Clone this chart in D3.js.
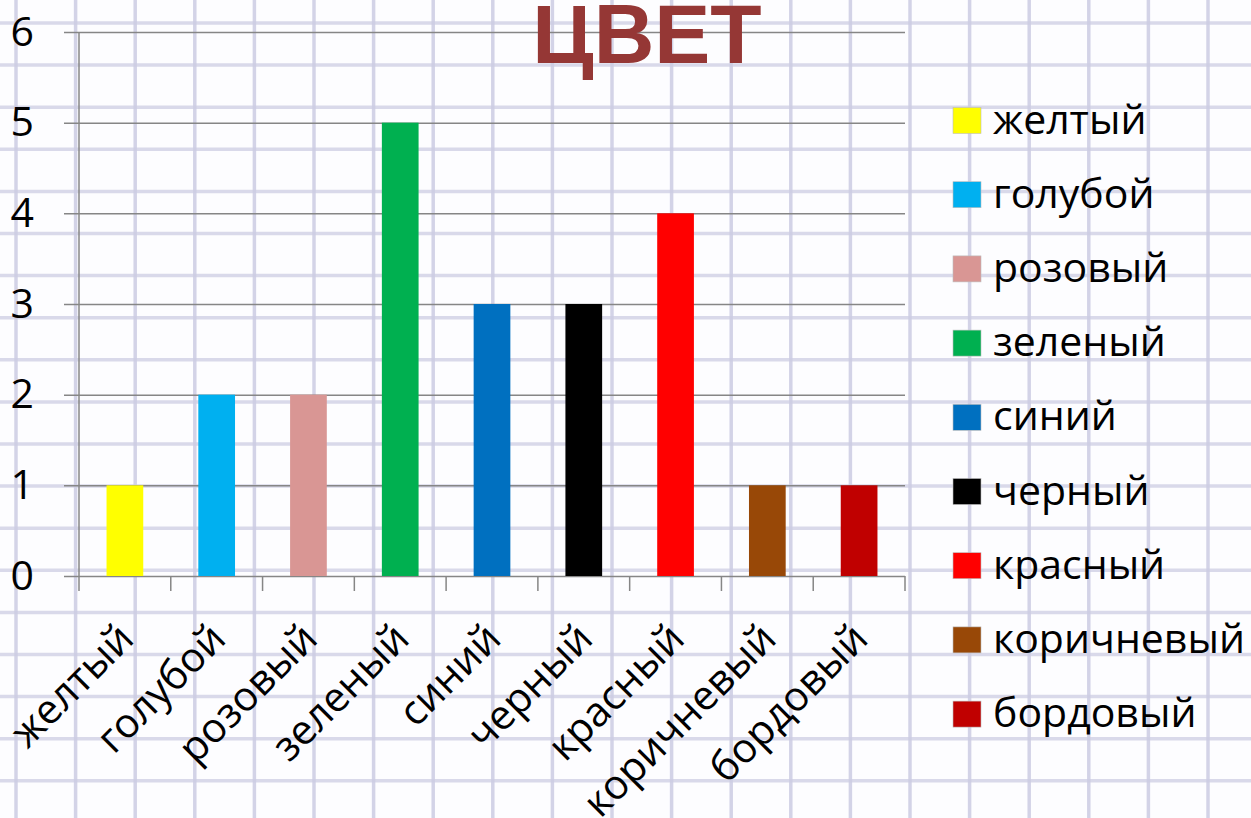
<!DOCTYPE html>
<html>
<head>
    <meta charset="utf-8">
    <script src="https://d3js.org/d3.v7.min.js"></script>
<style>
  body { margin: 0; background: #fdfdff; }
  svg text { font-family: "Open Sans", sans-serif; fill: #000; }
</style>
</head>
<body>
    <div id="Chart"></div>
<script>

// data
var categories = ["желтый", "голубой", "розовый", "зеленый", "синий", "черный", "красный", "коричневый", "бордовый"];
var values = [1, 2, 2, 5, 3, 3, 4, 1, 1];
var colors = ["#ffff00", "#00b0f0", "#d99694", "#00b050", "#0070c0", "#000000", "#ff0000", "#984807", "#c00000"];
var yTicks = [0, 1, 2, 3, 4, 5, 6];
var title = "ЦВЕТ";

var W = 1251, H = 818;
var plot = {left: 79, right: 905, top: 32, bottom: 576};

var svg = d3.select("#Chart")
  .append("svg")
    .attr("width", W)
    .attr("height", H)
    .attr("xmlns", "http://www.w3.org/2000/svg");

// squared notebook paper in the background
var paper = svg.append("g");
paper.selectAll("line.v")
  .data(d3.range(16, W, 59.6))
  .enter().append("line")
    .attr("x1", function(d) { return d; }).attr("x2", function(d) { return d; })
    .attr("y1", 0).attr("y2", H)
    .attr("stroke", "#c6c6e0").attr("stroke-width", 3.5).attr("opacity", 0.75);
paper.selectAll("line.h")
  .data(d3.range(23, H, 42.1))
  .enter().append("line")
    .attr("x1", 0).attr("x2", W)
    .attr("y1", function(d) { return d; }).attr("y2", function(d) { return d; })
    .attr("stroke", "#cdcde3").attr("stroke-width", 3.5).attr("opacity", 0.75);

// scales
var x = d3.scaleBand()
  .domain(categories)
  .range([plot.left, plot.right])
  .paddingInner(0.6)
  .paddingOuter(0.3);

var y = d3.scaleLinear()
  .domain([0, 6])
  .range([plot.bottom, plot.top]);

// horizontal gridlines + y labels
var yAxis = svg.append("g")
  .attr("transform", "translate(" + plot.left + ",0)")
  .call(d3.axisLeft(y).tickValues(yTicks).tickSize(15).tickFormat(d3.format("d")));
yAxis.select(".domain").remove();
yAxis.selectAll(".tick line")
  .attr("x2", plot.right - plot.left)
  .attr("x1", -15)
  .attr("stroke", "#868686").attr("stroke-width", 1.5);
yAxis.selectAll(".tick text")
  .attr("x", -45)
  .style("font-size", "41px")
  .style("font-family", "Open Sans");

// vertical axis line
svg.append("line")
  .attr("x1", plot.left).attr("x2", plot.left)
  .attr("y1", y(6)).attr("y2", plot.bottom + 15)
  .attr("stroke", "#868686").attr("stroke-width", 1.5);

// category separators below the baseline
var step = x.step();
svg.append("g").selectAll("line")
  .data(categories)
  .enter().append("line")
    .attr("x1", function(d) { return x(d) + x.bandwidth() / 2 + step / 2; })
    .attr("x2", function(d) { return x(d) + x.bandwidth() / 2 + step / 2; })
    .attr("y1", plot.bottom).attr("y2", plot.bottom + 15)
    .attr("stroke", "#868686").attr("stroke-width", 1.5);

// bars
svg.append("g")
  .selectAll("rect")
  .data(values)
  .enter()
  .append("rect")
    .attr("x", function(d, i) { return x(categories[i]); })
    .attr("y", function(d) { return y(d); })
    .attr("width", x.bandwidth())
    .attr("height", function(d) { return y(0) - y(d); })
    .attr("fill", function(d, i) { return colors[i]; });

// rotated category labels
svg.append("g")
  .selectAll("text")
  .data(categories)
  .enter().append("text")
    .attr("transform", function(d) {
      return "translate(" + (x(d) + x.bandwidth() / 2 + 1) + ",631) rotate(-45)";
    })
    .attr("dy", "0.35em")
    .attr("text-anchor", "end")
    .style("font-size", "41px")
    .text(function(d) { return d; });

// legend
var legend = svg.append("g").selectAll("g")
  .data(categories)
  .enter().append("g")
    .attr("transform", function(d, i) { return "translate(953," + (120.5 + i * 74.2) + ")"; });
legend.append("rect")
  .attr("x", 0).attr("y", -13)
  .attr("width", 28).attr("height", 26)
  .attr("fill", function(d, i) { return colors[i]; })
  .attr("stroke", "#bdbdbd").attr("stroke-width", 0.6);
legend.append("text")
  .attr("x", 40).attr("y", 13)
  .style("font-size", "41px")
  .text(function(d) { return d; });

// title
svg.append("text")
  .attr("x", 647).attr("y", 63)
  .attr("text-anchor", "middle")
  .style("font-family", "Liberation Sans")
  .style("font-weight", "bold")
  .style("font-size", "84px")
  .style("fill", "#953735")
  .text(title);

</script>
</body>
</html>
